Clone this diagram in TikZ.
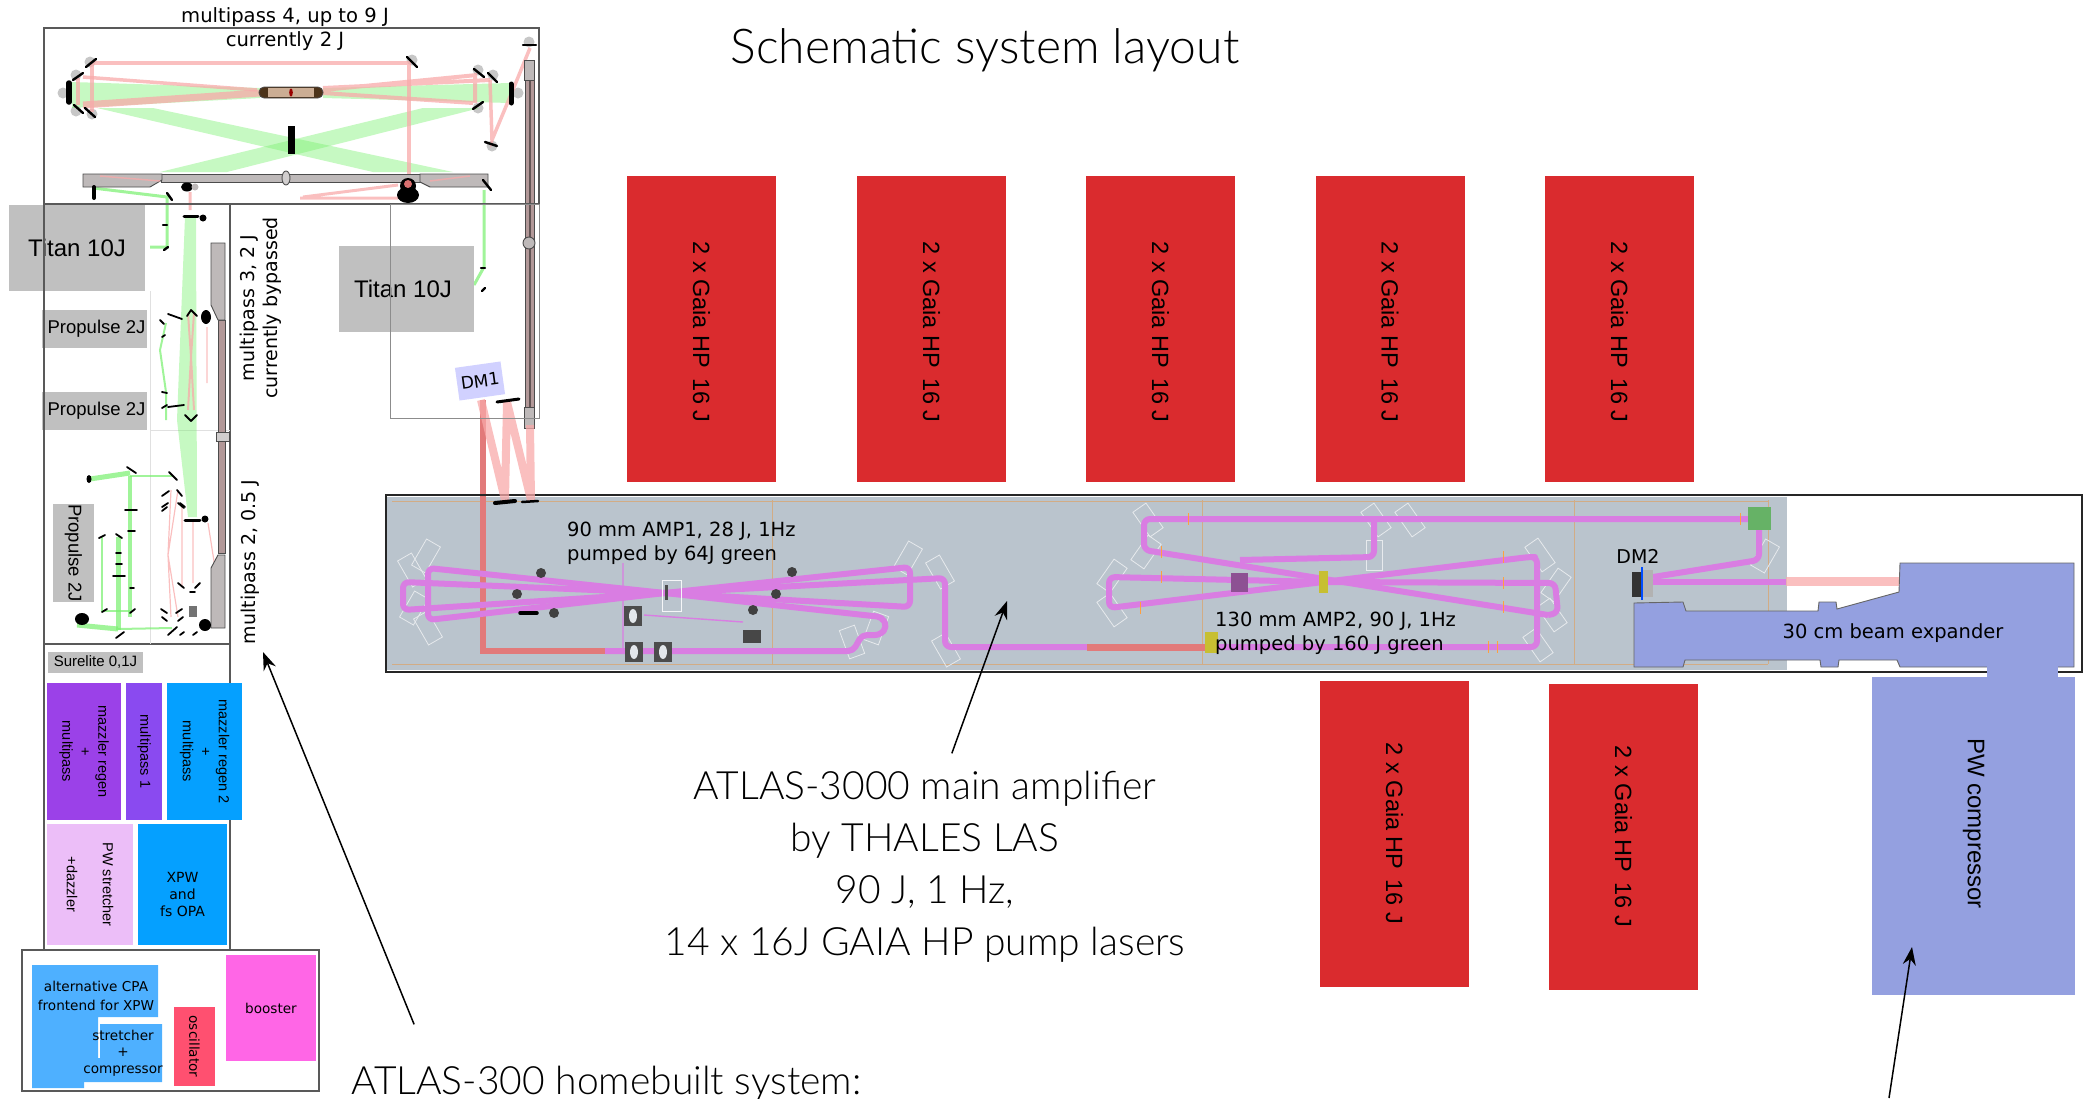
\documentclass[tikz,border=0pt]{standalone}
\usepackage{fontspec}
\usepackage{xcolor}
\setmainfont{Lato}[UprightFont=* Light]
\newfontfamily\plotfont{DejaVu Sans}
\newfontfamily\boxfont{Liberation Sans}
\usetikzlibrary{arrows.meta,calc,positioning}
\definecolor{gaiared}{RGB}{218,43,46}
\definecolor{expanderblue}{RGB}{148,160,224}
\definecolor{ampgray}{RGB}{186,196,205}
\definecolor{pulsepink}{RGB}{217,125,226}
\definecolor{beamred}{RGB}{248,170,170}
\definecolor{salmonred}{RGB}{226,122,122}
\definecolor{beamgreen}{RGB}{120,240,110}
\definecolor{labelgray}{RGB}{192,192,192}
\definecolor{benchgray}{RGB}{190,185,185}
\definecolor{barbrown}{RGB}{178,152,152}
\definecolor{regenviolet}{RGB}{155,65,232}
\definecolor{passviolet}{RGB}{138,74,240}
\definecolor{xpwblue}{RGB}{5,160,255}
\definecolor{cpablue}{RGB}{78,176,255}
\definecolor{stretchpink}{RGB}{236,190,248}
\definecolor{oscred}{RGB}{255,80,112}
\definecolor{boostpink}{RGB}{255,102,230}
\tikzset{
  gaiabox/.style={fill=gaiared,rotate=-90,minimum width=306pt,minimum height=149pt,inner sep=0pt,
    font=\boxfont\fontsize{23.5}{26}\selectfont},
  graybox/.style={fill=labelgray,inner sep=0pt,font=\boxfont\fontsize{24}{28}\selectfont},
  smallgray/.style={fill=labelgray,inner sep=0pt,font=\boxfont\fontsize{18.5}{23}\selectfont},
  colorbox/.style={inner sep=0pt,align=center,font=\boxfont\fontsize{14.5}{18}\selectfont},
  framebox/.style={draw=black!65,line width=1.1pt},
  thinframe/.style={draw=black!45,line width=0.8pt},
  plotlabel/.style={inner sep=0pt,align=left,font=\plotfont\fontsize{19.5}{24}\selectfont},
  talklabel/.style={inner sep=0pt,align=center,font=\fontsize{39}{52}\selectfont},
  greenfill/.style={fill=beamgreen,opacity=0.42},
  greenbeam/.style={draw=beamgreen,line width=#1,opacity=0.7},
  redbeam/.style={draw=beamred,line width=#1,opacity=0.75},
  pinkbeam/.style={draw=pulsepink,line width=6pt,rounded corners=6pt,line join=round},
  mirrorbar/.style={draw=black,line width=#1,line cap=round},
  mirrorbar/.default=2.4pt,
  benchbar/.style={draw=black!70,fill=benchgray,line width=0.9pt},
  mountline/.style={draw=white!65!ampgray,line width=0.8pt},
  guideline/.style={draw=orange!35!ampgray,line width=0.7pt},
  pointer/.style={draw=black,line width=1.5pt,-{Stealth[length=18pt,width=13pt]}}
}

\begin{document}
\begin{tikzpicture}[x=1pt,y=-1pt,>=Stealth]
  \useasboundingbox (0,0) rectangle (2086,1098);
  \clip (0,0) rectangle (2086,1098);

  % pump lasers
  \node[gaiabox] (gaiaA) at (701.5,329) {\hspace{6pt}2 x Gaia HP\hspace{10pt}16 J};
  \node[gaiabox] (gaiaB) at (931.5,329) {\hspace{6pt}2 x Gaia HP\hspace{10pt}16 J};
  \node[gaiabox] (gaiaC) at (1160.5,329) {\hspace{6pt}2 x Gaia HP\hspace{10pt}16 J};
  \node[gaiabox] (gaiaD) at (1390,329) {\hspace{6pt}2 x Gaia HP\hspace{10pt}16 J};
  \node[gaiabox] (gaiaE) at (1619.5,329) {\hspace{6pt}2 x Gaia HP\hspace{10pt}16 J};
  \node[gaiabox] (gaiaF) at (1394.5,833.5) {2 x Gaia HP\hspace{10pt}16 J};
  \node[gaiabox] (gaiaG) at (1623.5,836.5) {2 x Gaia HP\hspace{10pt}16 J};

  % main amplifier table
  \fill[ampgray] (387,497) rectangle (1787,670);
  \foreach \gx in {772,1202,1574,1768} \draw[guideline] (\gx,500)--(\gx,664);
  \draw[guideline] (392,501)--(1768,501) (392,664)--(1768,664);
  \foreach \mx/\my/\mr in {412/570/30,426/556/-30,414/608/-30,428/628/30,908/558/-30,940/572/30,946/650/30,
      852/642/20,876/628/-20,1148/520/35,1146/552/-35,1112/576/-35,1112/610/35,1376/520/35,1410/520/35,
      1374/555/0,1540/555/35,1556/585/-35,1552/615/35,1538/645/35,1765/556/-30}
    \draw[mountline,rotate around={\mr:(\mx,\my)}] (\mx-8,\my-15) rectangle (\mx+8,\my+15);

  % AMP1 beams
  \draw[draw=salmonred,line width=6pt] (483,400)--(483,651)--(605,651);
  \draw[pinkbeam] (665,593)--(428,568)--(428,620)--(665,593);
  \draw[pinkbeam] (665,593)--(403,582)--(403,610)--(665,593);
  \draw[pinkbeam] (665,593)--(910,567)--(910,607)--(665,593);
  \draw[pinkbeam] (665,593)--(945,578)--(945,647)--(1087,647);
  \draw[pinkbeam,rounded corners=5pt] (665,593)--(882,617)--(887,627)--(880,635)--(862,635)--(853,651)--(605,651);
  \draw[pulsepink,line width=1.4pt] (623,563)--(623,650) (644,615)--(743,622);

  % AMP1 hardware
  \foreach \dx/\dy in {541/573,517/594,554/613,792/572,776/594,753/610} \fill[black!75] (\dx,\dy) circle (5);
  \draw[mirrorbar=3.5pt] (520,613)--(537,613);
  \fill[black!72] (743,630) rectangle (761,643);
  \foreach \sx/\sy in {633/616,634/652,663/652} {
    \fill[black!70] (\sx-9,\sy-10) rectangle (\sx+9,\sy+10);
    \fill[ampgray!40!white] (\sx,\sy) ellipse (4 and 7);
  }
  \draw[draw=white!85!ampgray,line width=1pt] (662,580) rectangle (681,611);
  \fill[black!70] (665,585) rectangle (668,600);

  % AMP2 beams
  \draw[draw=salmonred,line width=7pt] (1087,647)--(1215,647);
  \draw[pinkbeam] (1760,519)--(1144,519)--(1144,550)--(1548,615);
  \draw[pinkbeam] (1374,519)--(1374,557)--(1240,560);
  \draw[pinkbeam] (1324,582)--(1109,577)--(1109,608)--(1529,557)--(1537,557)--(1537,647)--(1215,647);
  \draw[pinkbeam] (1324,582)--(1555,583)--(1558,613)--(1548,615);
  \draw[pinkbeam] (1759,530)--(1759,560)--(1653,577);
  \draw[pinkbeam] (1653,582)--(1786,582);
  \draw[redbeam=9pt] (1786,581.5)--(1899,581.5);
  \fill[black!35!pulsepink] (1231,573) rectangle (1248,592);
  \fill[yellow!75!black] (1319,571) rectangle (1328,593);
  \fill[yellow!75!black] (1205,632) rectangle (1218,653);
  \fill[green!50!black!60] (1748,507) rectangle (1771,530);
  \fill[black!80] (1632,572) rectangle (1642,597);
  \fill[black!30] (1642,570) rectangle (1653,597);
  \draw[blue!70!cyan,line width=1.6pt] (1642,567)--(1642,600);
  \foreach \cx/\cy in {1188/519,1161/552,1161/577,1740/519,1503/557,1503/583,1503/607,1488/647,1497/647,1140/608}
    \draw[orange!75!white,line width=1pt] (\cx,\cy-6)--(\cx,\cy+6);
  \draw[draw=black!85,line width=1.8pt] (386,495) rectangle (2082,672);

  % beam expander and compressor
  \draw[draw=black!60,fill=expanderblue,line width=0.9pt] (1634,603)--(1683,602)--(1686,611)--(1818,611)--(1819,602)--(1836,602)--(1837,609)
    --(1899,592)--(1900,563)--(2074,563)--(2074,667)--(1900,667)--(1897,660)--(1839,660)--(1838,667)
    --(1821,667)--(1820,660)--(1685,660)--(1683,667)--(1634,667)--cycle;
  \fill[expanderblue] (1987,666) rectangle (2058,677);
  \node[rotate=-90,fill=expanderblue,minimum width=318pt,minimum height=203pt,inner sep=0pt,
        font=\boxfont\fontsize{24}{28}\selectfont] (compressor) at (1973.5,835.5) {\raisebox{-3pt}{PW compressor}\hspace{24pt}\mbox{}};

  % multipass 4 mirror mounts
  \foreach \bx/\by in {90/62,76/75,63/93,76/111,92/114,412/60,478/70,493/75,518/93,478/108,492/146,529/42}
    \fill[black!22] (\bx,\by) circle (5.5);

  % multipass 4 beams
  \fill[greenfill] (72,82)--(260,88)--(260,98)--(72,108)--cycle;
  \fill[greenfill] (323,88)--(510,83)--(510,103)--(323,98)--cycle;
  \fill[greenfill] (97,108)--(153,108)--(453,172)--(373,172)--cycle;
  \fill[greenfill] (423,108)--(480,108)--(227,172)--(160,172)--cycle;
  \draw[redbeam=4pt] (92,112)--(92,63)--(409,63)--(409,175);
  \draw[redbeam=3.5pt] (83,77)--(257,90);
  \draw[redbeam=4pt] (78,78)--(78,105);
  \draw[redbeam=7pt] (83,105)--(260,93);
  \draw[redbeam=4pt] (323,90)--(477,75) (323,88)--(490,80) (323,93)--(473,103) (475,75)--(475,103);
  \draw[redbeam=3.5pt] (490,80)--(492,140)--(512,92)--(530,48);
  \draw[redbeam=3pt] (190,192)--(190,210) (300,198)--(398,198) (303,197)--(398,185);
  \draw[greenbeam=3pt] (93,188)--(167,197)--(167,247)--(150,247);
  \draw[greenbeam=3pt] (484,190)--(484,267)--(474,285);

  % multipass 4 hardware
  \draw[benchbar] (161,174)--(420,174)--(420,182)--(161,182)--cycle;
  \draw[benchbar] (83,174)--(162,174)--(162,180)--(150,187)--(83,187)--cycle;
  \draw[benchbar] (420,174)--(488,174)--(488,187)--(430,187)--(420,182)--cycle;
  \draw[redbeam=1.5pt] (100,176)--(160,181) (430,181)--(470,176);
  \draw[benchbar,fill=benchgray!70!white] (286,178) ellipse (4 and 7);
  \draw[draw=black!70,fill=black!60!brown,line width=0.8pt,rounded corners=5pt] (259,87) rectangle (323,98);
  \fill[benchgray!80!orange] (268,88) rectangle (314,97);
  \fill[red!60!black] (291,92.5) ellipse (1.8 and 4);
  \fill[black] (288,126) rectangle (295,154);
  \fill[black] (408,195) ellipse (11 and 8);
  \fill[black] (408,186) circle (8);
  \fill[benchgray!60!red] (408,184) circle (4);
  \fill[black] (187,187) ellipse (6 and 4.5);
  \fill[benchgray] (195,187) circle (3.5);
  \foreach \ax/\ay/\bx/\by in {86/67/96/59,73/80/83/73,74/105/83/113,85/108/95/117,407/57/417/67,474/69/484/77,
      488/73/497/82,473/109/483/102,485/142/497/146,523/45/536/45,483/180/491/190,167/193/172/200,
      163/225/167/225,164/250/168/247,481/268/485/268,482/291/485/288}
    \draw[mirrorbar] (\ax,\ay)--(\bx,\by);
  \draw[mirrorbar=5.5pt] (69,83)--(69,102);
  \draw[mirrorbar=5pt] (511,84)--(511,103);
  \draw[mirrorbar=4pt] (94,187)--(94,198);

  % long vertical bench
  \draw[benchbar,fill=barbrown] (525,60) rectangle (534,428);
  \draw[draw=black!45!barbrown,line width=2pt] (529.5,80)--(529.5,407);
  \draw[benchbar] (524,60) rectangle (534,80);
  \draw[benchbar] (524,407) rectangle (534,428);
  \draw[benchbar] (529,243) circle (6);

  % DM1 beams
  \draw[redbeam=8pt] (481,400)--(505,500) (507,402)--(505,500) (507,402)--(531,500) (531,500)--(530,425);
  \draw[mirrorbar=3pt] (497,402)--(519,399);
  \draw[mirrorbar=4pt] (495,503)--(515,501);
  \draw[mirrorbar=2.5pt] (522,502)--(538,501);

  % gray source boxes
  \node[graybox,minimum width=136pt,minimum height=86pt] (titanL) at (77,248) {Titan 10J};
  \node[graybox,minimum width=135pt,minimum height=86pt] (titanR) at (406.5,289) {Titan 10J\hspace{7pt}\mbox{}};
  \node[smallgray,minimum width=105pt,minimum height=38pt] (propA) at (94.5,329) {\hspace{4pt}Propulse 2J};
  \node[smallgray,minimum width=105pt,minimum height=38pt] (propB) at (94.5,411) {\hspace{4pt}Propulse 2J};
  \node[smallgray,rotate=-90,minimum width=98pt,minimum height=41pt] (propC) at (73.5,553) {Propulse 2J};
  \node[smallgray,fill=labelgray,minimum width=95pt,minimum height=21pt,
        font=\boxfont\fontsize{15}{18}\selectfont] (sure) at (95.5,662.5) {Surelite 0,1J};
  \node[rotate=8,fill=blue!18!white,minimum width=46pt,minimum height=33pt,inner sep=0pt,
        font=\plotfont\fontsize{17}{20}\selectfont] (dmA) at (480,381) {DM1};

  % frames of the front end
  \draw[framebox] (44,28) rectangle (539,204);
  \draw[framebox] (44,204) rectangle (230,950);
  \draw[framebox] (44,644)--(230,644);
  \draw[framebox] (22,950) rectangle (319,1091);
  \draw[thinframe] (390,204) rectangle (539,418);
  \draw[draw=black!12,line width=0.8pt] (150,291)--(150,644) (150,430)--(230,430);

  % multipass 3 and 2 beams
  \fill[greenfill] (185,217)--(196,217)--(197,517)--(188,517)--(177,420)--cycle;
  \draw[greenbeam=2pt] (166,323)--(160,350)--(166,392)--(166,420);
  \draw[greenbeam=5pt] (90,479)--(130,473);
  \draw[greenbeam=2pt] (130,476)--(173,476);
  \draw[greenbeam=4pt] (130,476)--(130,617);
  \draw[greenbeam=5pt] (118,537)--(118,630);
  \draw[greenbeam=5pt] (77,625)--(118,629);
  \draw[greenbeam=2pt] (118,629)--(172,628);
  \draw[greenbeam=1.5pt] (102,537)--(102,611)--(130,611);
  \draw[redbeam=2pt] (188,313)--(191,357)--(194,313) (188,410)--(191,357)--(194,410);
  \draw[redbeam=1.2pt] (207,327)--(207,383) (171,490)--(168,555)--(171,617) (178,490)--(168,555)--(178,617)
    (193,522)--(193,583) (182,507)--(182,587) (208,523)--(222,612);

  % multipass 3 and 2 hardware
  \draw[benchbar,fill=barbrown] (218,320) rectangle (225,553);
  \draw[benchbar] (211,243)--(225,243)--(225,320)--(218,320)--(211,305)--cycle;
  \draw[benchbar] (218,555)--(225,555)--(225,628)--(211,628)--(211,568)--cycle;
  \draw[benchbar,fill=benchgray!70!white] (216,432) rectangle (229,441);
  \foreach \ax/\ay/\bx/\by in {168/314/182/319,187/316/191/310,191/310/197/316,160/320/164/324,162/337/165/335,
      162/392/167/393,162/408/167/405,168/407/184/405,185/415/191/421,191/421/197/415,
      127/467/136/473,169/472/177/480,125/510/137/510,128/531/135/531,130/588/134/588,116/553/121/553,
      116/564/122/564,113/576/125/576,116/638/124/632,99/538/105/535,116/534/122/538,102/612/107/609,130/613/135/609,
      162/496/169/491,177/490/182/496,162/507/168/503,178/503/184/508,162/511/167/507,180/503/185/507,
      178/583/184/588,195/588/200/583,190/592/195/592,161/609/167/613,176/613/182/609,162/617/167/621,
      178/621/183/617,168/635/177/627,180/635/184/632,193/635/197/632}
    \draw[mirrorbar=1.8pt] (\ax,\ay)--(\bx,\by);
  \draw[mirrorbar=3pt] (184,216)--(198,216);
  \draw[mirrorbar=3pt] (185,520)--(200,520);
  \fill[black] (203,218) circle (3.5);
  \fill[black] (206,317) ellipse (5 and 7);
  \fill[black] (205,519) circle (3.5);
  \fill[black] (205,625) circle (6);
  \fill[black] (82,619) ellipse (7 and 6);
  \fill[black] (89,479) ellipse (2.5 and 4);
  \fill[black!55] (189,606) rectangle (197,617);

  % frontend blocks
  \node[colorbox,fill=regenviolet,rotate=-90,minimum width=137pt,minimum height=74pt] (regenA) at (84,751.5) {mazzler regen\\+\\multipass};
  \node[colorbox,fill=passviolet,rotate=-90,minimum width=137pt,minimum height=36pt] (regenB) at (144,751.5) {multipass 1};
  \node[colorbox,fill=xpwblue,rotate=-90,minimum width=137pt,minimum height=75pt] (regenC) at (204.5,751.5) {mazzler regen 2\\+\\multipass};
  \node[colorbox,fill=stretchpink,rotate=-90,minimum width=121pt,minimum height=86pt] (stretcher) at (90,884.5) {PW stretcher\\[18pt]+dazzler};
  \node[colorbox,fill=xpwblue,minimum width=89pt,minimum height=121pt,font=\plotfont\fontsize{14}{17}\selectfont] (xpw) at (182.5,884.5) {\rule{0pt}{30pt}XPW\\and\\fs OPA};
  \fill[cpablue] (32,965)--(158,965)--(158,1017)--(98,1017)--(98,1058)--(84,1058)--(84,1088)--(32,1088)--cycle;
  \fill[cpablue] (100,1024)--(162,1024)--(162,1082)--(83,1082)--(83,1058)--(100,1058)--cycle;
  \node[plotlabel,align=center,font=\plotfont\fontsize{13.6}{19}\selectfont] (altcpa) at (96,996) {alternative CPA\\frontend for XPW};
  \node[plotlabel,align=center,font=\plotfont\fontsize{13.6}{16.5}\selectfont] (cpastretch) at (123,1053) {stretcher\\+\\compressor};
  \node[colorbox,fill=oscred,rotate=-90,minimum width=79pt,minimum height=41pt,font=\plotfont\fontsize{13.6}{16}\selectfont] (oscillator) at (194.5,1046.5) {oscillator};
  \node[colorbox,fill=boostpink,minimum width=90pt,minimum height=106pt,font=\plotfont\fontsize{13.6}{16}\selectfont] (booster) at (271,1008) {booster};

  % labels on the plan
  \node[plotlabel,align=center,font=\plotfont\fontsize{19.6}{23.5}\selectfont] (multiD) at (285,29) {multipass 4, up to 9 J\\currently 2 J};
  \node[plotlabel,align=center,rotate=90,font=\plotfont\fontsize{19}{23}\selectfont] (multiC) at (261,308) {multipass 3, 2 J\\currently bypassed};
  \node[plotlabel,rotate=90,font=\plotfont\fontsize{19}{23}\selectfont] (multiB) at (250,562) {multipass 2, 0.5 J};
  \node[plotlabel,anchor=north west] (ampA) at (567,522) {90 mm AMP1, 28 J, 1Hz\\pumped by 64J green};
  \node[plotlabel,anchor=north west] (ampB) at (1215,612) {130 mm AMP2, 90 J, 1Hz\\pumped by 160 J green};
  \node[plotlabel,font=\plotfont\fontsize{19}{23}\selectfont] (dmB) at (1638,556) {DM2};
  \node[plotlabel,font=\plotfont\fontsize{19.5}{23}\selectfont] (expander) at (1893,633) {30 cm beam expander};

  % talk labels
  \node[talklabel,font=\fontsize{48}{60}\selectfont] (title) at (985,50) {Schematic system layout};
  \node[talklabel] (mainnote) at (925,867) {ATLAS-3000 main amplifier\\by THALES LAS\\90 J, 1 Hz,\\14 x 16J GAIA HP pump lasers};
  \node[talklabel,anchor=north west,text depth=8pt] (homenote) at (351,1066) {ATLAS-300 homebuilt system:};

  % pointers
  \coordinate (amptip) at (1007,601);
  \coordinate (hometip) at (263,652);
  \coordinate (comptail) at (1889,1098);
  \coordinate (comptip) at (1912,947);
  \draw[pointer,shorten <=19pt] (mainnote.78)--(amptip);
  \draw[pointer,shorten <=45pt] ($(homenote.north west)+(80,0)$)--(hometip);
  \draw[pointer] (comptail)--(comptip);
\end{tikzpicture}
\end{document}
